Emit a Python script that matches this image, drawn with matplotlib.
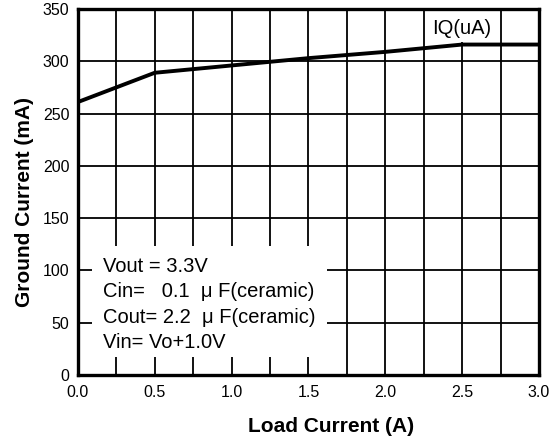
import numpy as np
import matplotlib
matplotlib.use("Agg")
import matplotlib.pyplot as plt
from matplotlib.patches import Rectangle

# -------------------------------
# ДАННЫЕ
# -------------------------------
load_current = [0.0, 0.5, 1.0, 1.5, 2.0, 2.5, 3.0]
ground_current = [261, 289, 296, 303, 309, 316, 316]

x_ticks = [0.0, 0.5, 1.0, 1.5, 2.0, 2.5, 3.0]
x_grid = np.arange(0, 3.01, 0.25)
y_ticks = [0, 50, 100, 150, 200, 250, 300, 350]

note_lines = [
    "Vout = 3.3V",
    "Cin=   0.1  \u03bc F(ceramic)",
    "Cout= 2.2  \u03bc F(ceramic)",
    "Vin= Vo+1.0V",
]
note_y = [104, 80, 55, 31]

plt.rcParams["font.family"] = ["Liberation Sans", "DejaVu Sans"]

fig = plt.figure(figsize=(5.6, 4.41), dpi=100)
ax = fig.add_axes([0.139, 0.1497, 0.8235, 0.8299])

# сетка
for gx in x_grid:
    ax.axvline(gx, color="black", linewidth=1.3, zorder=1)
for gy in y_ticks:
    ax.axhline(gy, color="black", linewidth=1.3, zorder=1)

# белые подложки под подписи
ax.add_patch(Rectangle((0.09, 17), 1.53, 106, facecolor="white",
                       edgecolor="none", zorder=2))
ax.add_patch(Rectangle((2.27, 318), 0.46, 32, facecolor="white",
                       edgecolor="none", zorder=2))

ax.plot(load_current, ground_current, color="black", linewidth=2.8,
        zorder=3, solid_capstyle="butt")

ax.text(2.5, 331, "IQ(uA)", fontsize=14.5, ha="center", va="center", zorder=4)
for line, yy in zip(note_lines, note_y):
    ax.text(0.163, yy, line, fontsize=14.5, ha="left", va="center", zorder=4)

ax.set_xlim(0, 3.0)
ax.set_ylim(0, 350)
ax.set_xticks(x_ticks)
ax.set_xticklabels([f"{v:.1f}" for v in x_ticks])
ax.set_yticks(y_ticks)
ax.tick_params(axis="both", length=0, labelsize=11.5)
ax.tick_params(axis="x", pad=7)
ax.tick_params(axis="y", pad=6)

for sp in ax.spines.values():
    sp.set_linewidth(2.4)
    sp.set_zorder(5)

ax.set_xlabel("Load Current (A)", fontsize=15, fontweight="bold")
ax.set_ylabel("Ground Current (mA)", fontsize=15, fontweight="bold")
ax.xaxis.set_label_coords(0.549, -0.142)
ax.xaxis.label.set_va("center")
ax.yaxis.set_label_coords(-0.115, 0.473)
ax.yaxis.label.set_va("center")

fig.savefig("out.png", dpi=100)
